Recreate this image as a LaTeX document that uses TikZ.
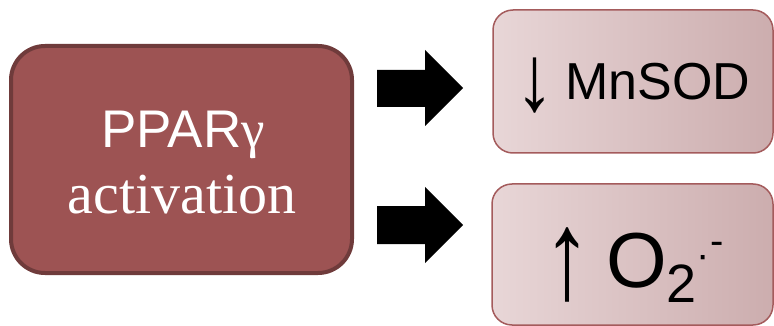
\documentclass[tikz,border=0pt]{standalone}
\usepackage{fontspec}
\setmainfont{Liberation Serif}
\setsansfont{Liberation Sans}
\definecolor{bigfill}{HTML}{9D5353}
\definecolor{bigdraw}{HTML}{6F3B3B}
\definecolor{smalldraw}{HTML}{A45B5C}
\definecolor{gradL}{HTML}{E8D6D7}
\definecolor{gradR}{HTML}{CCADAE}
\tikzset{
  bigbox/.style={draw=bigdraw, line width=4pt, fill=bigfill, rounded corners=34pt},
  smallbox/.style={draw=smalldraw, line width=1.5pt, left color=gradL, right color=gradR, rounded corners=20pt},
  blockarrow/.style={fill=black},
  txt/.style={inner sep=0pt, anchor=base}
}
\begin{document}
\begin{tikzpicture}[x=1pt,y=-1pt]
\useasboundingbox (0,0) rectangle (774,326);
% left box
\draw[bigbox] (11,46) rectangle (352,273);
\node[txt, text=white, font=\sffamily\fontsize{53}{60}\selectfont] (ppar) at (183,148) {PPAR{\rmfamily γ}};
\node[txt, text=white, font=\rmfamily\fontsize{58}{64}\selectfont] (act) at (182,213) {activation};
% right boxes
\draw[smallbox] (493,10) rectangle (773,153);
\draw[smallbox] (492,184) rectangle (773,325);
% block arrows
\fill[blockarrow] (377,70) -- (425,70) -- (425,50) -- (463,88) -- (425,126) -- (425,107) -- (377,107) -- cycle;
\fill[blockarrow] (377,206) -- (425,206) -- (425,187) -- (463,225) -- (425,263) -- (425,244) -- (377,244) -- cycle;
% texts
\node[txt, font=\sffamily\fontsize{52}{60}\selectfont] (down) at (535,100) {\raisebox{-10pt}{\scalebox{1.5}[1.8]{↓}}};
\node[txt, font=\sffamily\fontsize{52}{60}\selectfont] (mn) at (658,100) {MnSOD};
\node[txt, font=\sffamily\fontsize{60}{72}\selectfont] (up) at (567,287) {\raisebox{-12pt}{\scalebox{1.6}[2.1]{↑}}};
\node[txt, anchor=base west, font=\sffamily] (o2) at (606,287)
  {{\fontsize{78}{80}\selectfont O}\raisebox{-15pt}{\fontsize{54}{60}\selectfont 2}\raisebox{19pt}{\fontsize{40}{40}\selectfont ·}\kern0pt\raisebox{33pt}{\fontsize{40}{40}\selectfont -}};
\end{tikzpicture}
\end{document}
